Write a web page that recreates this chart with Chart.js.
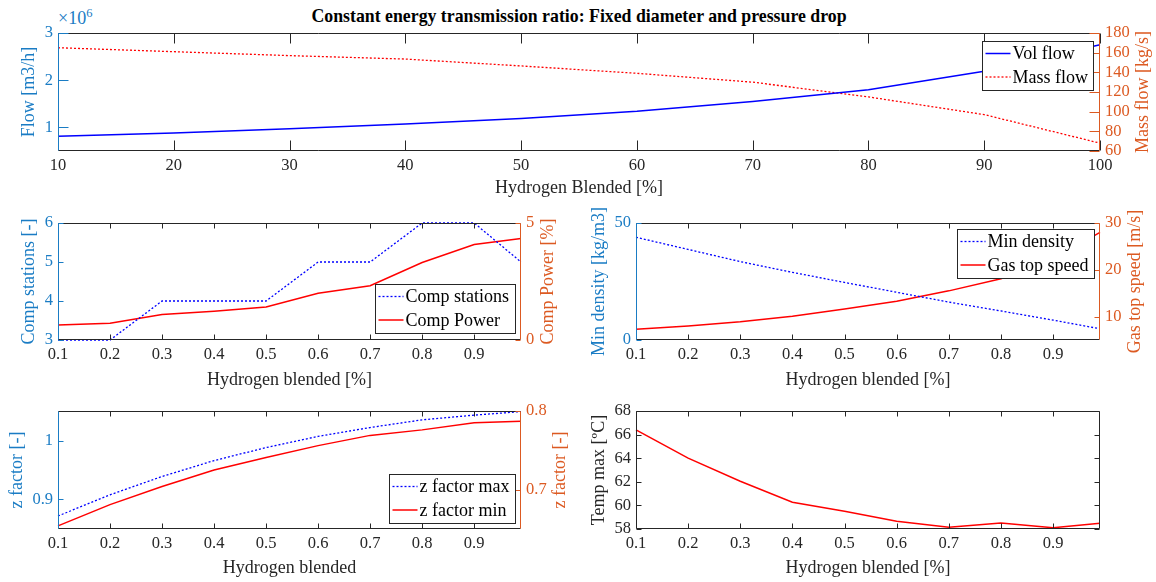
<!DOCTYPE html>
<html><head><meta charset="utf-8">
<script src="https://cdn.jsdelivr.net/npm/chart.js@4.4.1/dist/chart.umd.min.js"></script>
<style>
html,body{margin:0;padding:0;background:#fff;}
#wrap{position:relative;width:1156px;height:582px;overflow:hidden;font-family:'Liberation Serif',serif;}
canvas{position:absolute;}
#title{position:absolute;left:0;width:1158px;top:6px;line-height:20px;text-align:center;font-weight:bold;font-size:17.8px;color:#000;}
#exp{position:absolute;left:58px;top:8px;line-height:20px;font-size:18px;color:#1a7cc4;}
#exp sup{font-size:12.5px;vertical-align:7px;line-height:0;}
</style></head>
<body><div id="wrap">
<div id="title">Constant energy transmission ratio: Fixed diameter and pressure drop</div>
<div id="exp">×10<sup>6</sup></div>
<canvas id="c1" width="1156" height="200" style="left:0;top:0;width:1156px;height:200px"></canvas>
<canvas id="c2" width="578" height="192" style="left:0;top:200px;width:578px;height:192px"></canvas>
<canvas id="c3" width="578" height="192" style="left:578px;top:200px;width:578px;height:192px"></canvas>
<canvas id="c4" width="578" height="190" style="left:0;top:392px;width:578px;height:190px"></canvas>
<canvas id="c5" width="578" height="190" style="left:578px;top:392px;width:578px;height:190px"></canvas>
</div>
<script>
// ---------------- data ----------------
const blendPct = [10, 20, 30, 40, 50, 60, 70, 80, 90, 100];
const volFlow = [0.81, 0.88, 0.97, 1.07, 1.19, 1.34, 1.55, 1.80, 2.19, 2.75];   // x10^6 m3/h
const massFlow = [165, 161, 157, 153.5, 146.5, 139, 130, 115, 97, 68];          // kg/s

const blend = [0.1, 0.2, 0.3, 0.4, 0.5, 0.6, 0.7, 0.8, 0.9, 0.99];
const compStations = [3, 3, 4, 4, 4, 5, 5, 6, 6, 5];
const compPower = [0.64, 0.72, 1.09, 1.23, 1.41, 2.0, 2.32, 3.31, 4.08, 4.34];
const minDensity = [43.9, 38.7, 33.5, 28.9, 24.6, 20.4, 16.2, 12.4, 8.5, 4.8];
const gasTopSpeed = [7.3, 8.0, 8.9, 10.1, 11.6, 13.3, 15.5, 18.1, 22.3, 28.0];
const zFactorMax = [0.872, 0.908, 0.939, 0.966, 0.988, 1.007, 1.022, 1.035, 1.043, 1.049];
const zFactorMin = [0.654, 0.681, 0.704, 0.725, 0.741, 0.756, 0.769, 0.776, 0.785, 0.787];
const tempMax = [66.4, 64.0, 62.05, 60.27, 59.5, 58.65, 58.14, 58.5, 58.11, 58.48];

// tick labels
const pctTicks = [10, 20, 30, 40, 50, 60, 70, 80, 90, 100];
const blendTicks = [0.1, 0.2, 0.3, 0.4, 0.5, 0.6, 0.7, 0.8, 0.9];
const flowTicks = [1, 2, 3];
const massTicks = [60, 80, 100, 120, 140, 160, 180];
const stationTicks = [3, 4, 5, 6];
const powerTicks = [0, 5];
const densityTicks = [0, 50];
const speedTicks = [10, 20, 30];
const zMaxTicks = [0.9, 1];
const zMinTicks = [0.7, 0.8];
const tempTicks = [58, 60, 62, 64, 66, 68];

// ---------------- style ----------------
const FONT = "'Liberation Serif', serif";
const BLUE_AX = '#1a7cc4', ORANGE_AX = '#dc5a22', GRAY = '#262626';
Chart.defaults.font.family = FONT;
Chart.defaults.font.size = 16.5;
Chart.defaults.color = GRAY;
Chart.defaults.animation = false;

const fmt = v => String(+(+v).toFixed(3));
const pts = (xs, ys) => xs.map((x, i) => ({x: x, y: ys[i]}));

const matlab = {
  id: 'matlab',
  afterDatasetsDraw(chart, args, o) {
    const ctx = chart.ctx, a = chart.chartArea, s = chart.scales;
    const L = Math.round(a.left) + 0.5, R = Math.round(a.right) - 0.5;
    const T = Math.round(a.top) + 0.5, B = Math.round(a.bottom) - 0.5;
    const tk = o.tick;
    ctx.save();
    ctx.lineWidth = 1;
    ctx.setLineDash([]);
    const seg = (x1, y1, x2, y2, c) => { ctx.strokeStyle = c; ctx.beginPath(); ctx.moveTo(x1, y1); ctx.lineTo(x2, y2); ctx.stroke(); };
    s.x.ticks.forEach(t => {
      const px = Math.round(s.x.getPixelForValue(t.value)) + 0.5;
      seg(px, B, px, B - tk, GRAY); seg(px, T, px, T + tk, GRAY);
    });
    seg(L, T, R, T, GRAY); seg(L, B, R, B, GRAY);
    const yl = s.yL, lc = o.leftColor;
    yl.ticks.forEach(t => {
      const py = Math.round(yl.getPixelForValue(t.value)) + 0.5;
      seg(L, py, L + tk, py, lc);
      if (!s.yR) seg(R, py, R - tk, py, GRAY);
    });
    seg(L, T, L, B, lc);
    // y titles (rotated, reading bottom-to-top)
    ctx.font = '18px ' + FONT;
    const labW = (sc) => { ctx.font = '16.5px ' + FONT; const w = Math.max(...sc.ticks.map(t => ctx.measureText(fmt(t.value)).width)); ctx.font = '18px ' + FONT; return w; };
    const drawTitle = (text, x, color) => {
      ctx.save(); ctx.translate(x, (a.top + a.bottom) / 2); ctx.rotate(-Math.PI / 2);
      ctx.fillStyle = color; ctx.textAlign = 'center'; ctx.textBaseline = 'middle';
      ctx.fillText(text, 0, 0); ctx.restore();
    };
    drawTitle(yl.options.title.text, a.left - 5 - labW(yl) - 15, lc);
    if (s.yR) {
      const yr = s.yR, rc = o.rightColor;
      yr.ticks.forEach(t => {
        const py = Math.round(yr.getPixelForValue(t.value)) + 0.5;
        seg(R, py, R - tk, py, rc);
      });
      seg(R, T, R, B, rc);
      drawTitle(yr.options.title.text, a.right + 5 + labW(yr) + 14, rc);
    } else {
      seg(R, T, R, B, GRAY);
    }
    // legend
    if (o.legend) {
      const lg = o.legend, ds = chart.data.datasets;
      ctx.font = '18px ' + FONT;
      const tw = Math.max(...ds.map(d => ctx.measureText(d.label).width));
      const w = Math.round(31 + tw + 5), h = 49;
      const x0 = Math.round(a.right - lg.dx - w) + 0.5;
      const y0 = Math.round(lg.v === 'top' ? a.top + lg.dy : a.bottom - lg.dy - h) + 0.5;
      ctx.fillStyle = '#fff'; ctx.fillRect(x0, y0, w, h);
      ctx.strokeStyle = GRAY; ctx.lineWidth = 1; ctx.strokeRect(x0, y0, w, h);
      ds.forEach((d, i) => {
        const yy = y0 + 12 + i * 23.5;
        ctx.save();
        ctx.strokeStyle = d.borderColor; ctx.lineWidth = d.borderWidth; ctx.setLineDash(d.borderDash || []);
        ctx.beginPath(); ctx.moveTo(x0 + 3, yy); ctx.lineTo(x0 + 28, yy); ctx.stroke();
        ctx.restore();
        ctx.fillStyle = '#000'; ctx.textAlign = 'left'; ctx.textBaseline = 'middle';
        ctx.fillText(d.label, x0 + 30, yy + 1);
      });
    }
    ctx.restore();
  }
};

function yScale(pos, min, max, ticks, color, title, width) {
  return {
    type: 'linear', position: pos, min: min, max: max,
    grid: {display: false, drawTicks: false}, border: {display: false},
    ticks: {color: color, padding: 5, autoSkip: false, callback: v => fmt(v), font: {size: 16.5}},
    afterBuildTicks: sc => { sc.ticks = ticks.map(v => ({value: v})); },
    afterFit: sc => { sc.width = width; },
    title: {display: false, text: title}
  };
}
function xScale(min, max, ticks, title, height, pb) {
  return {
    type: 'linear', position: 'bottom', min: min, max: max,
    grid: {display: false, drawTicks: false}, border: {display: false},
    ticks: {color: GRAY, padding: 5, autoSkip: false, maxRotation: 0, callback: v => fmt(v), font: {size: 16.5}},
    afterBuildTicks: sc => { sc.ticks = ticks.map(v => ({value: v})); },
    afterFit: sc => { sc.height = height; },
    title: {display: true, text: title, color: GRAY, font: {size: 18}, padding: {top: 0, bottom: pb}}
  };
}
function line(label, xs, ys, color, dotted, axis) {
  return {
    label: label, data: pts(xs, ys), yAxisID: axis,
    borderColor: color, borderWidth: dotted ? 1.3 : 1.5, borderDash: dotted ? [2, 2] : [],
    pointRadius: 0, tension: 0, fill: false, clip: 3
  };
}
function make(id, datasets, scales, padTop, padRight, opts) {
  return new Chart(document.getElementById(id), {
    type: 'line',
    data: {datasets: datasets},
    options: {
      responsive: false, animation: false,
      layout: {padding: {top: padTop, left: 0, right: padRight, bottom: 0}},
      plugins: {legend: {display: false}, tooltip: {enabled: false}, title: {display: false}, matlab: opts},
      scales: scales
    },
    plugins: [matlab]
  });
}

make('c1', [
  line('Vol flow', blendPct, volFlow, '#0000ff', false, 'yL'),
  line('Mass flow', blendPct, massFlow, '#ff0000', true, 'yR')
], {
  x: xScale(10, 100, pctTicks, 'Hydrogen Blended [%]', 49, 1.2),
  yL: yScale('left', 0.5, 3, flowTicks, BLUE_AX, 'Flow [m3/h]', 58),
  yR: yScale('right', 60, 180, massTicks, ORANGE_AX, 'Mass flow [kg/s]', 56)
}, 33, 0, {tick: 10, leftColor: BLUE_AX, rightColor: ORANGE_AX, legend: {v: 'top', dx: 7, dy: 8}});

make('c2', [
  line('Comp stations', blend, compStations, '#0000ff', true, 'yL'),
  line('Comp Power', blend, compPower, '#ff0000', false, 'yR')
], {
  x: xScale(0.1, 0.99, blendTicks, 'Hydrogen blended [%]', 52, 1.2),
  yL: yScale('left', 3, 6, stationTicks, BLUE_AX, 'Comp stations [-]', 58),
  yR: yScale('right', 0, 5, powerTicks, ORANGE_AX, 'Comp Power [%]', 57)
}, 23, 0, {tick: 5, leftColor: BLUE_AX, rightColor: ORANGE_AX, legend: {v: 'bottom', dx: 6, dy: 7}});

make('c3', [
  line('Min density', blend, minDensity, '#0000ff', true, 'yL'),
  line('Gas top speed', blend, gasTopSpeed, '#ff0000', false, 'yR')
], {
  x: xScale(0.1, 0.99, blendTicks, 'Hydrogen blended [%]', 52, 1.2),
  yL: yScale('left', 0, 50, densityTicks, BLUE_AX, 'Min density [kg/m3]', 58),
  yR: yScale('right', 5, 30, speedTicks, ORANGE_AX, 'Gas top speed [m/s]', 56)
}, 23, 0, {tick: 5, leftColor: BLUE_AX, rightColor: ORANGE_AX, legend: {v: 'top', dx: 6, dy: 6}});

make('c4', [
  line('z factor max', blend, zFactorMax, '#0000ff', true, 'yL'),
  line('z factor min', blend, zFactorMin, '#ff0000', false, 'yR')
], {
  x: xScale(0.1, 0.99, blendTicks, 'Hydrogen blended', 53, 3.2),
  yL: yScale('left', 0.85, 1.05, zMaxTicks, BLUE_AX, 'z factor [-]', 58),
  yR: yScale('right', 0.65, 0.8, zMinTicks, ORANGE_AX, 'z factor [-]', 57)
}, 19, 0, {tick: 5, leftColor: BLUE_AX, rightColor: ORANGE_AX, legend: {v: 'bottom', dx: 6, dy: 6}});

make('c5', [
  line('Temp max', blend, tempMax, '#ff0000', false, 'yL')
], {
  x: xScale(0.1, 0.99, blendTicks, 'Hydrogen blended [%]', 53, 3.2),
  yL: yScale('left', 58, 68, tempTicks, GRAY, 'Temp max [ºC]', 58)
}, 19, 56, {tick: 5, leftColor: GRAY});
</script>
</body></html>
